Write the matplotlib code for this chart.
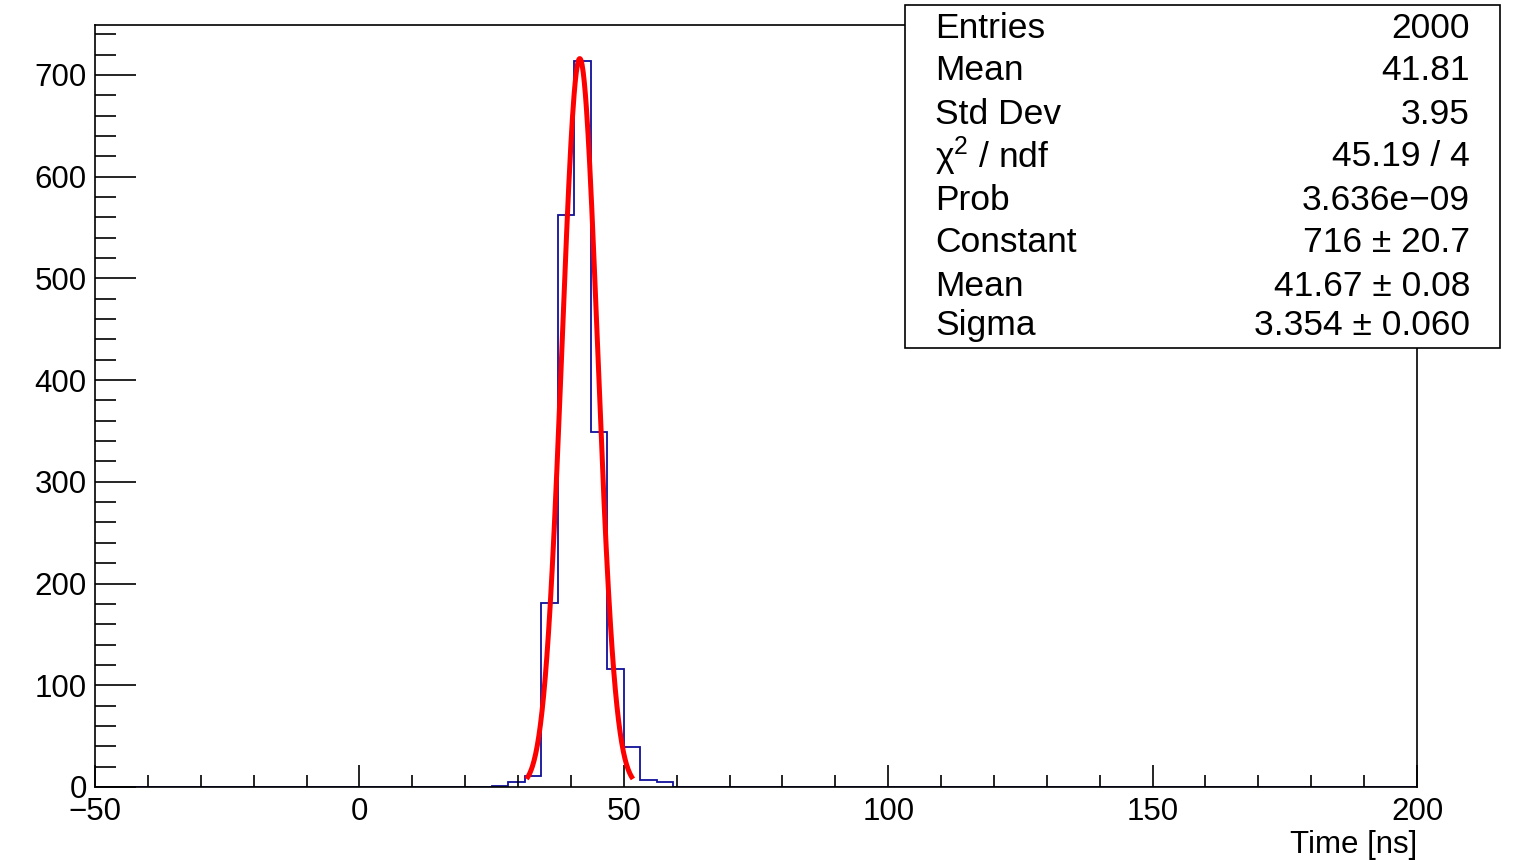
import numpy as np
import matplotlib
matplotlib.use('Agg')
import matplotlib.pyplot as plt
from matplotlib.ticker import MultipleLocator

plt.rcParams['font.family'] = ['Liberation Sans', 'DejaVu Sans']
plt.rcParams['mathtext.fontset'] = 'custom'
plt.rcParams['mathtext.rm'] = 'Liberation Sans'
plt.rcParams['mathtext.it'] = 'Liberation Sans:italic'

# histogram: 80 bins from -50 to 200 ns
x_min, x_max, n_bins = -50, 200, 80
# non-empty bins: lower edge -> counts
filled_lo = [25.0, 28.125, 31.25, 34.375, 37.5, 40.625, 43.75, 46.875,
             50.0, 53.125, 56.25]
filled_counts = [1, 5, 11, 181, 562, 714, 349, 116, 39, 7, 5]

# gaussian fit result
fit_const, fit_mean, fit_sigma = 716, 41.67, 3.354

stat_names = ['Entries', 'Mean', 'Std Dev', r'$\mathregular{\chi^2}$ / ndf', 'Prob',
              'Constant', 'Mean', 'Sigma']
stat_values = ['2000', '41.81', '3.95', '45.19 / 4', '3.636e\u221209',
               '716 \u00b1 20.7', '41.67 \u00b1 0.08', '3.354 \u00b1 0.060']

edges = np.linspace(x_min, x_max, n_bins + 1)
counts = np.zeros(n_bins)
for lo, c in zip(filled_lo, filled_counts):
    counts[int(round((lo - x_min) / (edges[1] - edges[0])))] = c

fig = plt.figure(figsize=(15.18, 8.6), dpi=100)
ax = fig.add_axes([95 / 1518, 1 - 787 / 860, (1417 - 95) / 1518, (787 - 25) / 860])

ax.stairs(counts, edges, color='#10109a', linewidth=1.3)

xf = np.linspace(fit_mean - 3 * fit_sigma, fit_mean + 3 * fit_sigma, 200)
yf = fit_const * np.exp(-0.5 * ((xf - fit_mean) / fit_sigma) ** 2)
ax.plot(xf, yf, color='red', linewidth=3.6, solid_capstyle='butt')

ax.set_xlim(x_min, x_max)
ax.set_ylim(0, 749)
ax.xaxis.set_major_locator(MultipleLocator(50))
ax.xaxis.set_minor_locator(MultipleLocator(10))
ax.yaxis.set_major_locator(MultipleLocator(100))
ax.yaxis.set_minor_locator(MultipleLocator(20))
ax.tick_params(axis='both', which='both', direction='in', top=False, right=False,
               labelsize=22.5, width=1.2, color='black')
ax.tick_params(axis='y', which='major', length=29.5, pad=6)
ax.tick_params(axis='y', which='minor', length=15)
ax.tick_params(axis='x', which='major', length=16, pad=7)
ax.tick_params(axis='x', which='minor', length=9)
for s in ax.spines.values():
    s.set_linewidth(1.2)

ax.set_xlabel('Time [ns]', loc='right', fontsize=22.5, labelpad=2)

# stats box
bx0, by0, bx1, by1 = 905 / 1518, 1 - 348 / 860, 1500 / 1518, 1 - 5 / 860
fig.patches.append(plt.Rectangle((bx0, by0), bx1 - bx0, by1 - by0,
                                 transform=fig.transFigure, facecolor='white',
                                 edgecolor='black', linewidth=1.2, zorder=5))
line_y = [28, 71, 114, 156, 200, 243, 286, 326]
for name, val, yy in zip(stat_names, stat_values, line_y):
    fig.text(935 / 1518, 1 - yy / 860, name, fontsize=25.5, ha='left', va='center', zorder=6)
    fig.text(1470 / 1518, 1 - yy / 860, val, fontsize=25.5, ha='right', va='center', zorder=6)

fig.savefig('out.png', dpi=100)
